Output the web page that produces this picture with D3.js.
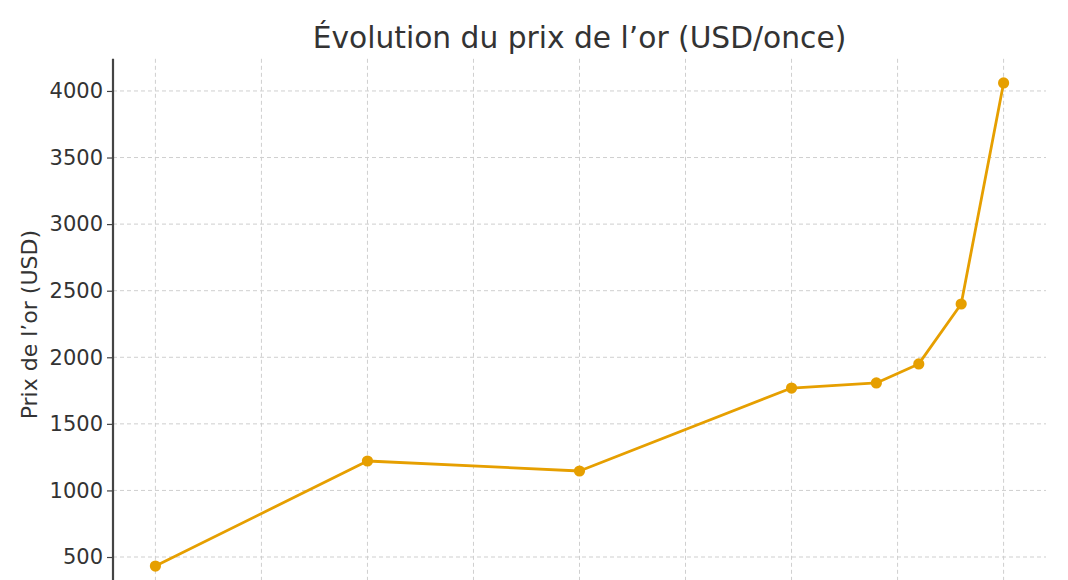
<!DOCTYPE html>
<html><head><meta charset="utf-8">
<script src="https://cdn.jsdelivr.net/npm/d3@7"></script>
<style>body{margin:0;background:#fff;}svg{display:block;}</style>
</head><body>
<svg id="chart" width="1068" height="580"></svg>
<script>
const years = [2005, 2010, 2015, 2020, 2022, 2023, 2024, 2025];
const prices = [432, 1221, 1146, 1769, 1807, 1950, 2400, 4060];
const yTicks = [500, 1000, 1500, 2000, 2500, 3000, 3500, 4000];
const xTicks = [2005, 2007.5, 2010, 2012.5, 2015, 2017.5, 2020, 2022.5, 2025];
const title = "Évolution du prix de l’or (USD/once)";
const yLabel = "Prix de l’or (USD)";

const svg = d3.select("#chart");
const mL = 113, mR = 1046, mT = 58.8, mB = 590.5;
const font = "DejaVu Sans, sans-serif";
const x = d3.scaleLinear().domain([2004, 2026]).range([mL, mR]);
const y = d3.scaleLinear().domain([248.5, 4241.5]).range([mB, mT]);

const g = svg.append("g");
g.selectAll(".vg").data(xTicks).enter().append("line")
  .attr("x1", d => x(d)).attr("x2", d => x(d)).attr("y1", mT).attr("y2", mB)
  .attr("stroke", "#cfcfcf").attr("stroke-width", 1).attr("stroke-dasharray", "4,3");
g.selectAll(".hg").data(yTicks).enter().append("line")
  .attr("x1", mL).attr("x2", mR).attr("y1", d => y(d)).attr("y2", d => y(d))
  .attr("stroke", "#cfcfcf").attr("stroke-width", 1).attr("stroke-dasharray", "4,3");

const yAxis = d3.axisLeft(y).tickValues(yTicks).tickSize(6).tickPadding(4).tickFormat(d3.format("d"));
const ya = svg.append("g").attr("transform", `translate(${mL},0)`).call(yAxis);
ya.select(".domain").remove();
ya.selectAll(".tick line").attr("stroke", "#444").attr("stroke-width", 1.2);
ya.selectAll(".tick text").attr("fill", "#333").style("font-family", font).style("font-size", "21px");
svg.append("line").attr("x1", mL).attr("x2", mL).attr("y1", mT).attr("y2", mB)
  .attr("stroke", "#444").attr("stroke-width", 2.2);

const pts = years.map((d, i) => [d, prices[i]]);
svg.append("path").datum(pts)
  .attr("d", d3.line().x(d => x(d[0])).y(d => y(d[1])))
  .attr("fill", "none").attr("stroke", "#E69F00").attr("stroke-width", 2.8).attr("stroke-linejoin", "round");
svg.selectAll(".pt").data(pts).enter().append("circle")
  .attr("cx", d => x(d[0])).attr("cy", d => y(d[1])).attr("r", 5.6).attr("fill", "#E69F00");

svg.append("text").attr("x", (mL + mR) / 2).attr("y", 48).attr("text-anchor", "middle")
  .attr("fill", "#333").style("font-family", font).style("font-size", "29.7px").text(title);
svg.append("text").attr("transform", `translate(37,${(mT + mB) / 2}) rotate(-90)`)
  .attr("text-anchor", "middle").attr("fill", "#333").style("font-family", font).style("font-size", "22px").text(yLabel);
</script>
</body></html>
